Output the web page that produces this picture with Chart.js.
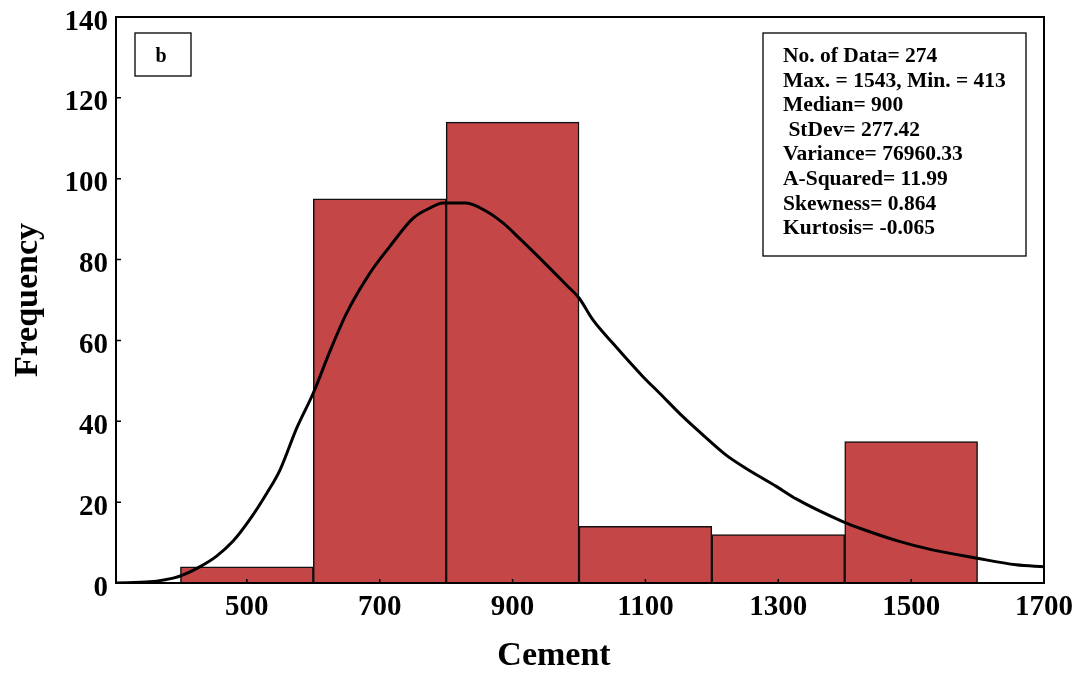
<!DOCTYPE html>
<html>
<head>
<meta charset="utf-8">
<script src="https://cdn.jsdelivr.net/npm/chart.js@4.4.0/dist/chart.umd.min.js"></script>
<style>
  html, body { margin: 0; padding: 0; background: #ffffff; }
  canvas { display: block; }
</style>
</head>
<body>
<canvas id="c" width="1080" height="673"></canvas>
<script>
// ---- data ----
const binCenters = [500, 700, 900, 1100, 1300, 1500];
const binCounts = [4, 95, 114, 14, 12, 35];
const curveX = [303, 354, 389, 404, 429, 454, 479, 504, 530, 550, 575, 600, 625, 650, 685, 715, 750, 775, 795, 830, 861, 886, 910, 951, 981, 1000, 1021, 1051, 1096, 1121, 1156, 1186, 1221, 1251, 1297, 1327, 1397, 1427, 1482, 1532, 1597, 1658, 1700];
const curveY = [0, 0.3, 1.2, 2, 4, 6.6, 10.3, 15.6, 22.2, 28, 38.3, 47, 57.3, 66.7, 76.6, 83.2, 90.2, 92.7, 94, 94, 91.9, 89, 85.3, 78.7, 73.7, 70.5, 65.1, 59.3, 51.1, 47, 41.2, 36.7, 31.7, 28.4, 23.9, 20.8, 15.2, 13.3, 10.3, 8.2, 6.2, 4.5, 4];
const xTicks = [500, 700, 900, 1100, 1300, 1500, 1700];
const xMin = 303, xMax = 1700;
const yMin = 0, yMax = 140, yStep = 20;
const statsLines = [
  "No. of Data= 274",
  "Max. = 1543, Min. = 413",
  "Median= 900",
  " StDev= 277.42",
  "Variance= 76960.33",
  "A-Squared= 11.99",
  "Skewness= 0.864",
  "Kurtosis= -0.065"
];
const panelLabel = "b";
const xTitle = "Cement";
const yTitle = "Frequency";

const FONT = "'Liberation Serif', 'Times New Roman', serif";

const framePlugin = {
  id: 'frame',
  afterDatasetsDraw(chart) {
    const {ctx, chartArea: a, scales} = chart;
    ctx.save();
    ctx.strokeStyle = '#000';
    ctx.lineWidth = 2;
    ctx.strokeRect(a.left, a.top, a.right - a.left, a.bottom - a.top);
    // inward ticks
    ctx.lineWidth = 1.5;
    ctx.beginPath();
    scales.y.ticks.forEach(t => {
      const py = scales.y.getPixelForValue(t.value);
      ctx.moveTo(a.left, py); ctx.lineTo(a.left + 5, py);
    });
    scales.x.ticks.forEach(t => {
      const px = scales.x.getPixelForValue(t.value);
      ctx.moveTo(px, a.bottom); ctx.lineTo(px, a.bottom - 4);
    });
    ctx.stroke();

    // panel label box
    ctx.lineWidth = 1.3;
    const bx = a.left + 19, by = a.top + 16, bw = 56, bh = 43;
    ctx.strokeRect(bx, by, bw, bh);
    ctx.fillStyle = '#000';
    ctx.font = "bold 20px " + FONT;
    ctx.textAlign = 'center';
    ctx.textBaseline = 'middle';
    ctx.fillText(panelLabel, bx + 26, by + 24);

    // stats box
    const sx = a.left + 647, sy = a.top + 16, sw = 263, sh = 223;
    ctx.strokeRect(sx, sy, sw, sh);
    ctx.font = "bold 21.5px " + FONT;
    ctx.textAlign = 'left';
    ctx.textBaseline = 'middle';
    statsLines.forEach((s, i) => {
      ctx.fillText(s, sx + 20, sy + 23.5 + i * 24.6);
    });

    // x axis title
    ctx.font = "bold 34px " + FONT;
    ctx.textAlign = 'center';
    ctx.textBaseline = 'middle';
    ctx.fillText(xTitle, (a.left + a.right) / 2 - 26, a.bottom + 73);
    ctx.restore();
  }
};

new Chart(document.getElementById('c'), {
  data: {
    datasets: [
      {
        type: 'line',
        data: curveX.map((x, i) => ({x: x, y: curveY[i]})),
        borderColor: '#000',
        borderWidth: 3,
        pointRadius: 0,
        fill: false,
        cubicInterpolationMode: 'monotone',
        order: 0
      },
      {
        type: 'bar',
        data: binCenters.map((x, i) => ({x: x, y: binCounts[i]})),
        backgroundColor: '#C54646',
        borderColor: '#111',
        borderWidth: 1.5,
        barPercentage: 1,
        categoryPercentage: 1,
        grouped: false,
        order: 1
      }
    ]
  },
  options: {
    responsive: false,
    devicePixelRatio: 1,
    animation: false,
    layout: { padding: { left: 0, right: 36, top: 17, bottom: 0 } },
    plugins: { legend: { display: false }, tooltip: { enabled: false } },
    scales: {
      x: {
        type: 'linear',
        offset: false,
        min: xMin, max: xMax,
        afterBuildTicks: s => { s.ticks = xTicks.map(v => ({value: v})); },
        afterFit: s => { s.height = 90; s.paddingLeft = 0; s.paddingRight = 0; },
        grid: { display: false, drawTicks: false, offset: false },
        border: { display: true, color: '#000', width: 2 },
        ticks: { color: '#000', padding: 7, maxRotation: 0, callback: v => String(v), font: { family: FONT, size: 29, weight: 'bold' } },
        title: { display: false, text: xTitle }
      },
      y: {
        min: yMin, max: yMax,
        afterFit: s => { s.width = 116; s.paddingTop = 0; s.paddingBottom = 0; },
        grid: { display: false, drawTicks: false },
        border: { display: true, color: '#000', width: 2 },
        ticks: { stepSize: yStep, color: '#000', padding: 8, callback: v => ['', String(v)], font: { family: FONT, size: 29, weight: 'bold', lineHeight: 0.35 } },
        title: { display: true, text: yTitle, color: '#000', padding: { top: 11, bottom: 0 }, font: { family: FONT, size: 34, weight: 'bold', lineHeight: 1 } }
      }
    }
  },
  plugins: [framePlugin]
});
</script>
</body>
</html>
